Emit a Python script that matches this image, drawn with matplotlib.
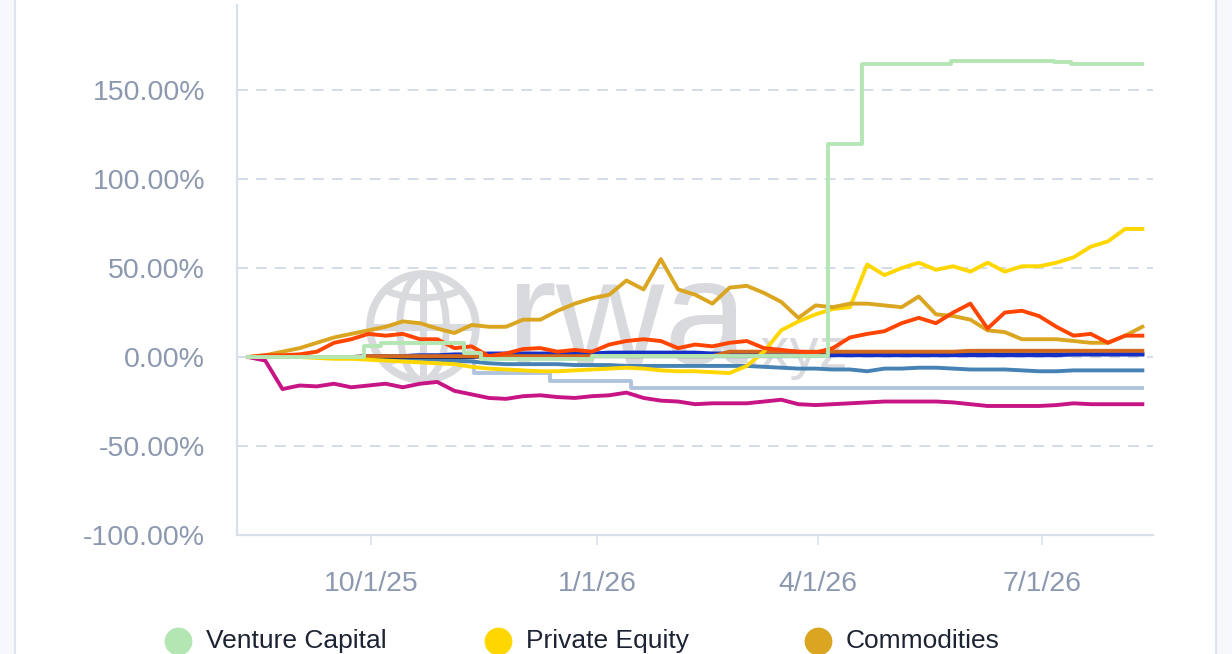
import numpy as np
import pandas as pd
import matplotlib
matplotlib.use('Agg')
import matplotlib.pyplot as plt
import matplotlib.dates as mdates
from matplotlib.patches import Circle, Ellipse, Rectangle
from matplotlib.lines import Line2D

plt.rcParams['font.family'] = ['Liberation Sans', 'DejaVu Sans']

# weekly sampling grid for the noisy series
weeks = pd.date_range('2025-08-12', '2026-08-11', freq='7D')

commodities = [0, 1, 3, 5, 8, 11, 13, 15, 17, 20, 19, 16, 13.5, 18, 17, 17, 21, 21,
               26, 30, 33, 35, 43, 38, 55, 38, 35, 30, 39, 40, 36, 31, 22, 29, 28, 30,
               30, 29, 28, 34, 24, 23, 21, 15, 14, 10, 10, 10, 9, 8, 8, 12, 17]
orange_red = [0, 1, 1, 1.5, 3, 8, 10, 13, 12, 13, 10, 10, 5, 6, 0.5, 2, 4.5, 5,
              3, 4, 3, 7, 9, 10, 9, 5, 7, 6, 8, 9, 5, 4, 3, 2.5, 5, 11,
              13, 14.5, 19, 22, 19, 25, 30, 16, 25, 26, 23, 17, 12, 13, 8, 12, 12]
private_equity = [0, 0, 0, 0, -0.5, -1, -1, -1.5, -2, -2.5, -3, -3.5, -4, -5.5, -6.5, -7, -7.5, -8,
                  -8, -7.5, -7, -6.5, -6, -6.5, -7.5, -8, -8, -8.5, -9, -5, 3, 15, 20, 24, 27, 28,
                  52, 46, 50, 53, 49, 51, 48, 53, 48, 51, 51, 53, 56, 62, 65, 72, 72]
magenta = [0, -2, -18, -16, -16.5, -15, -17, -16, -15, -17, -15, -14, -19, -21, -23, -23.5, -22, -21.5,
           -22.5, -23, -22, -21.5, -20, -23, -24.5, -25, -26.5, -26, -26, -26, -25, -24, -26.5, -27, -26.5, -26,
           -25.5, -25, -25, -25, -25, -25.5, -26.5, -27.5, -27.5, -27.5, -27.5, -27, -26, -26.5, -26.5, -26.5, -26.5]
steel_blue = [0, 0, 0, 0, 0, 0, 0, 0, -0.5, -1, -1, -1.5, -2, -2.5, -3.5, -4, -4, -4,
              -4, -4.5, -4.5, -4.5, -5, -5, -5, -5, -5, -5, -5, -5, -5.5, -6, -6.5, -6.5, -7, -7,
              -8, -6.5, -6.5, -6, -6, -6.5, -7, -7, -7, -7.5, -8, -8, -7.5, -7.5, -7.5, -7.5, -7.5]
medium_blue = [0, 0, 0, 0, 0, 0, 0, 0.5, 0.5, 0.5, 1, 1, 1.5, 1.5, 2, 2, 2, 2,
               2, 2, 2, 2.5, 2.5, 2.5, 2.5, 2.5, 2.5, 2, 2, 1.5, 1, 1, 1, 0.5, 1, 1,
               1, 1, 1, 1, 1, 1, 1, 1, 1, 1, 1, 1, 1.5, 1.5, 1.5, 1.5, 1.5]
navy = [0, 0, 0, 0, 0, 0, 0, 0, 0, 0, 0, 0, 0, 0, 0.5, 0.5, 0.5, 0.5,
        0.5, 0.5, 0.5, 0.5, 0.5, 0.5, 0.5, 0.5, 0.5, 0.5, 0.5, 0.5, 0.5, 0.5, 0.5, 1, 1.5, 1.5,
        1.5, 1.5, 1.5, 1.5, 1.5, 1.5, 1.5, 1.5, 1.5, 1.5, 1.5, 1.5, 1.5, 1.5, 1.5, 1.5, 1.5]
chocolate = [0, 0, 0, 0, 0, 0, 0, 0.5, 0.5, 0.5, 0.5, 0.5, 0.5, 0.5, 0.5, 0.5, 0.5, 0.5,
             0.5, 0.5, 0.5, 0.5, 0.5, 0.5, 0.5, 0.5, 0.5, 0.5, 3, 3, 3, 3, 3, 3, 3, 3,
             3, 3, 3, 3, 3, 3, 3.5, 3.5, 3.5, 3.5, 3.5, 3.5, 3.5, 3.5, 3.5, 3.5, 3.5]

# step-like series (change points)
vc_dates = pd.to_datetime(['2025-08-12', '2025-09-28', '2025-10-05', '2025-11-08', '2025-11-15',
                           '2025-12-30', '2026-04-05', '2026-04-19', '2026-05-25', '2026-07-06',
                           '2026-07-13', '2026-08-11'])
venture_capital = [0, 6, 8, 2, -1, 0.5, 119.5, 164.5, 166.5, 165.5, 164.8, 164.8]
lsb_dates = pd.to_datetime(['2025-08-12', '2025-10-29', '2025-11-12', '2025-12-13', '2026-01-15',
                            '2026-08-11'])
light_steel = [0, -2, -9, -13.5, -17.5, -17.5]

legend_names = ['Venture Capital', 'Private Equity', 'Commodities']
legend_colors = ['#b4e6b4', '#ffd700', '#daa520']

tick_dates = pd.to_datetime(['2025-10-01', '2026-01-01', '2026-04-01', '2026-07-01'])
tick_labels = ['10/1/25', '1/1/26', '4/1/26', '7/1/26']
y_ticks = [-100, -50, 0, 50, 100, 150]

W, H = 1232, 654
fig = plt.figure(figsize=(W / 100, H / 100), dpi=100)

# page side borders
fig.add_artist(Rectangle((0, 0), 14 / W, 1, transform=fig.transFigure, color='#f6f8fb', lw=0))
fig.add_artist(Rectangle((1216 / W, 0), 16 / W, 1, transform=fig.transFigure, color='#f6f8fb', lw=0))
fig.add_artist(Line2D([14.5 / W] * 2, [0, 1], transform=fig.transFigure, color='#dfe5ee', lw=1.6))
fig.add_artist(Line2D([1215.5 / W] * 2, [0, 1], transform=fig.transFigure, color='#dfe5ee', lw=1.6))

ax = fig.add_axes([237 / W, 1 - 535 / H, (1153 - 237) / W, 530 / H])
ax.set_facecolor('none')

# watermark (globe + rwa.xyz)
wm = '#d9dade'
gx, gy, gr = 4.23, (H - 327) / 100, 0.53
tr = fig.dpi_scale_trans
ring = Circle((gx, gy), gr, transform=tr, fill=False, ec=wm, lw=5.5, zorder=0.6)
ax.add_artist(ring)
clip = Circle((gx, gy), gr, transform=tr, fill=False, lw=0)
globe_parts = [
    Ellipse((gx, gy), 2 * gr * 0.44, 2 * gr, transform=tr, fill=False, ec=wm, lw=5, zorder=0.6),
    Line2D([gx, gx], [gy - gr, gy + gr], transform=tr, color=wm, lw=5, zorder=0.6),
    Line2D([gx - gr, gx + gr], [gy, gy], transform=tr, color=wm, lw=5, zorder=0.6),
    Ellipse((gx, gy + gr * 1.3), 2 * gr * 1.2, gr * 1.5, transform=tr, fill=False, ec=wm, lw=5, zorder=0.6),
    Ellipse((gx, gy - gr * 1.3), 2 * gr * 1.2, gr * 1.5, transform=tr, fill=False, ec=wm, lw=5, zorder=0.6),
]
for p in globe_parts:
    ax.add_artist(p)
    p.set_clip_path(clip)
ax.text(5.07, (H - 364) / 100, 'rwa', transform=tr, fontsize=108, color=wm, zorder=0.6, va='baseline')
ax.text(7.45, (H - 368) / 100, '.xyz', transform=tr, fontsize=42, color=wm, zorder=0.6, va='baseline')

lw = 2.8
ax.plot(lsb_dates, light_steel, color='#b0c4de', lw=lw, drawstyle='steps-post', zorder=2)
ax.plot(weeks, magenta, color='#c71585', lw=lw, zorder=2)
ax.plot(weeks, steel_blue, color='#4682b4', lw=lw, zorder=2)
ax.plot(weeks, navy, color='#1d2d5c', lw=lw, zorder=2)
ax.plot(weeks, medium_blue, color='#1530c8', lw=lw, zorder=2)
ax.plot(weeks, chocolate, color='#d2691e', lw=lw, zorder=2)
ax.plot(weeks, private_equity, color='#ffd700', lw=lw, zorder=2)
ax.plot(weeks, commodities, color='#daa520', lw=lw, zorder=2)
ax.plot(weeks, orange_red, color='#ff4500', lw=lw, zorder=2)
ax.plot(vc_dates, venture_capital, color='#b4e6b4', lw=lw, drawstyle='steps-post', zorder=2)

ax.set_xlim(pd.Timestamp('2025-08-07 12:00'), pd.Timestamp('2026-08-15 08:00'))
ax.set_ylim(-100, 197.8)

ax.set_yticks(y_ticks)
ax.set_yticklabels(['%.2f%%' % v for v in y_ticks])
ax.set_xticks(tick_dates)
ax.set_xticklabels(tick_labels)

lab_color = '#8c98b0'
ax.tick_params(axis='y', length=0, pad=23, labelsize=20.5, labelcolor=lab_color)
ax.tick_params(axis='x', length=7, width=1.2, color='#dde3ec', pad=19, labelsize=20.5, labelcolor=lab_color)

ax.grid(axis='y', color='#d0d9e6', lw=1.3, linestyle=(0, (6, 4.5)))
ax.set_axisbelow(True)

for s in ['top', 'right']:
    ax.spines[s].set_visible(False)
for s in ['left', 'bottom']:
    ax.spines[s].set_color('#d8e0ea')
    ax.spines[s].set_linewidth(1.6)

# legend row (cropped at the bottom edge)
leg_x = [178, 498, 818]
for name, c, x in zip(legend_names, legend_colors, leg_x):
    fig.add_artist(Line2D([x / W], [1 - 641 / H], transform=fig.transFigure, marker='o', markersize=19,
                          color=c, lw=0))
    fig.text((x + 28) / W, 1 - 641 / H, name, fontsize=19, color='#1c2333', va='center', ha='left')

plt.savefig('out.png', dpi=100)
